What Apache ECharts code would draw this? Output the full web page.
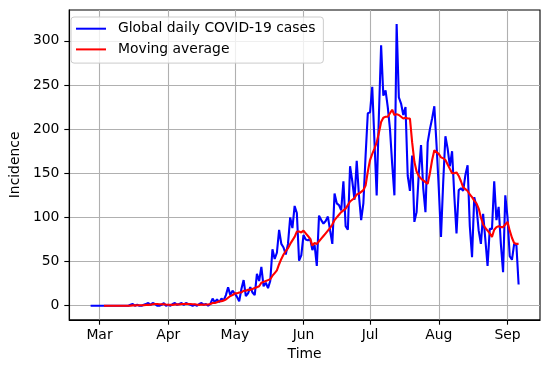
<!DOCTYPE html>
<html><head><meta charset="utf-8">
<script src="https://cdn.jsdelivr.net/npm/echarts@6/dist/echarts.min.js"></script>
<style>html,body{margin:0;padding:0;background:#fff}#c{width:550px;height:366px}</style>
</head><body><div id="c"></div>
<script>
// ---- data ----
const axisOriginDate = '2020-03-01';
const firstCaseDate = '2020-02-26';
const firstAvgDate = '2020-03-03';
const dailyCases = [
0,0,0,0,0,0,0,0,0,0,0,0,0,0,0,0,0,0,
1,2,0,1,0,0,1,2,3,1,3,2,0,0,1,3,0,1,0,2,3,1,2,3,1,3,2,1,0,1,0,2,3,1,2,0,2,
8,4,7,4,8,6,12,21,12,17,
14,10,5,19,29,11,14,21,15,12,
36,28,44,22,26,20,28,64,53,60,
86,70,66,58,70,100,88,113,105,51,
57,80,75,74,76,63,69,45,102,97,
93,96,101,85,70,127,116,114,108,141,
90,86,158,141,120,164,125,97,116,170,
218,219,248,186,125,216,295,238,244,225,
200,160,125,319,236,229,216,225,147,130,
170,95,106,150,182,133,106,185,200,212,
226,182,133,78,140,192,178,158,175,125,
82,131,133,130,148,159,90,55,123,112,
85,70,104,75,45,87,87,141,97,112,
70,38,125,100,56,52,70,69,24
];
const movingAverage = [
0,0,0,0,0,0,0,0,0,0,0,0,
0.1,0.4,0.4,0.6,0.6,0.6,0.7,0.9,1.0,1.1,1.6,1.9,2.0,1.7,1.6,1.6,1.3,1.1,1.1,1.0,1.3,1.6,1.4,1.9,2.0,2.1,2.0,1.9,1.7,1.6,1.1,1.0,1.3,1.1,1.3,1.3,
2,3,3,4,5,5,6,7,9,11,
12,14,14,15,15,17,17,18,18,19,
20,21,22,26,27,28,29,30,34,37,
40,47,53,58,62,65,70,74,78,84,
84,83,85,82,79,76,68,71,70,73,
76,79,82,85,88,92,97,100,103,106,
108,110,114,118,120,122,126,127,129,131,
136,152,165,172,178,185,196,208,213,214,
214,218,222,216,217,216,214,212,213,212,
212,185,163,152,147,144,142,140,138,150,
165,176,174,172,168,167,165,160,155,150,
150,151,147,141,134,132,130,126,123,119,
116,110,100,92,88,85,82,78,86,89,
90,89,89,92,95,85,77,71,70,70
];
const monthTickDates = ['2020-03-01','2020-04-01','2020-05-01','2020-06-01','2020-07-01','2020-08-01','2020-09-01'];
const monthTickLabels = ['Mar','Apr','May','Jun','Jul','Aug','Sep'];
const yTickValues = [0,50,100,150,200,250,300];
const seriesNames = ['Global daily COVID-19 cases','Moving average'];

// ---- build ----
const DAY = 86400000;
const origin = Date.parse(axisOriginDate + 'T00:00:00Z');
function dayOf(dateStr){ return (Date.parse(dateStr + 'T00:00:00Z') - origin) / DAY; }
const caseStart = dayOf(firstCaseDate);
const avgStart = dayOf(firstAvgDate);
const casePts = dailyCases.map((v,i)=>[caseStart+i, v]);
const avgPts = movingAverage.map((v,i)=>[avgStart+i, v]);
const xTicks = monthTickDates.map(dayOf);
const labelMap = {};
xTicks.forEach((d,i)=>{ labelMap[d] = monthTickLabels[i]; });

const FONT = 'DejaVu Sans';
const FS = 13.9;
const gridLine = {show:true, lineStyle:{color:'#b0b0b0', width:1.1}};

const chart = echarts.init(document.getElementById('c'), null, {renderer:'canvas'});
chart.setOption({
  animation:false,
  backgroundColor:'#fff',
  grid:{left:63, right:10, top:10, bottom:46, show:true, borderColor:'#000', borderWidth:1.1, backgroundColor:'transparent'},
  legend:{
    orient:'vertical', left:71, top:17,
    padding:[4.7,8,6.7,4],
    itemWidth:30, itemHeight:14, itemGap:6.7,
    borderColor:'#cccccc', borderWidth:1, borderRadius:3,
    backgroundColor:'rgba(255,255,255,0.8)',
    textStyle:{fontFamily:FONT, fontSize:FS, color:'#000', padding:[0,0,0,7]},
    data:seriesNames
  },
  xAxis:{
    type:'value', min:-13.65, max:198.65,
    name:'Time', nameLocation:'middle', nameGap:25,
    nameTextStyle:{fontFamily:FONT, fontSize:FS, color:'#000'},
    axisLine:{show:true, onZero:false, lineStyle:{color:'#000', width:1.1}},
    axisTick:{show:true, customValues:xTicks, length:4.9, lineStyle:{color:'#000', width:1.1}},
    axisLabel:{customValues:xTicks, margin:8.3, fontFamily:FONT, fontSize:FS, color:'#000',
      formatter:(v)=>labelMap[v] || ''},
    splitLine:gridLine
  },
  yAxis:{
    type:'value', min:-15.95, max:334.95,
    name:'Incidence', nameLocation:'middle', nameGap:41, nameRotate:90,
    nameTextStyle:{fontFamily:FONT, fontSize:FS, color:'#000'},
    axisLine:{show:true, onZero:false, lineStyle:{color:'#000', width:1.1}},
    axisTick:{show:true, customValues:yTickValues, length:4.9, lineStyle:{color:'#000', width:1.1}},
    axisLabel:{customValues:yTickValues, margin:9.8, fontFamily:FONT, fontSize:FS, color:'#000'},
    splitLine:gridLine
  },
  series:[
    {name:seriesNames[0], type:'line', data:casePts, symbol:'line', showSymbol:false,
     lineStyle:{color:'#0000ff', width:2.1}, itemStyle:{color:'#0000ff'}, z:2},
    {name:seriesNames[1], type:'line', data:avgPts, symbol:'line', showSymbol:false,
     lineStyle:{color:'#ff0000', width:2.1}, itemStyle:{color:'#ff0000'}, z:3}
  ]
});
</script></body></html>
